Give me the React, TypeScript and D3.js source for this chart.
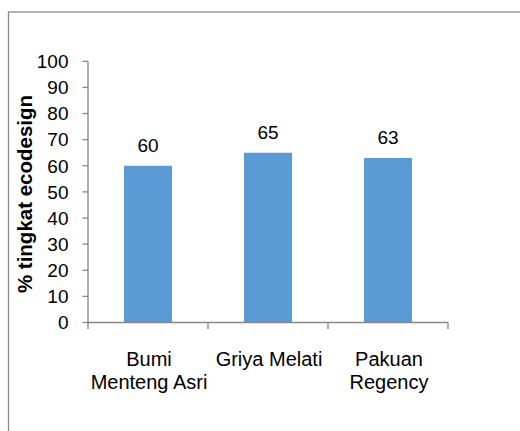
import React from "react";
import * as d3 from "d3";

const categories: string[][] = [["Bumi", "Menteng Asri"], ["Griya Melati"], ["Pakuan", "Regency"]];
const values: number[] = [60, 65, 63];
const yTicks: number[] = [0, 10, 20, 30, 40, 50, 60, 70, 80, 90, 100];
const yTitle = "% tingkat ecodesign";

export default function App() {
  const W = 520, H = 431;
  const left = 88, right = 448, top = 61.3, bottom = 322.5;
  const keys = categories.map((_, i) => String(i));
  const x = d3.scaleBand<string>().domain(keys).range([left, right]).paddingInner(0.6).paddingOuter(0.3);
  const band = d3.scaleBand<string>().domain(keys).range([left, right]);
  const y = d3.scaleLinear().domain([0, 100]).range([bottom, top]);
  const axisColor = "#868686";
  const font = "Arial, 'Liberation Sans', sans-serif";
  return (
    <svg width={W} height={H} style={{ position: "absolute", left: 0, top: 0, background: "#fff" }}>
      <rect x={8.5} y={12} width={520} height={440} fill="#fff" stroke="#8a8a8a" strokeWidth={1.3} />
      {values.map((v, i) => (
        <g key={i}>
          <rect x={x(String(i))!} y={y(v)} width={x.bandwidth()} height={y(0) - y(v)} fill="#5B9BD5" />
          <text x={x(String(i))! + x.bandwidth() / 2} y={y(v) - 13.5} textAnchor="middle" fontFamily={font} fontSize={19} fill="#000">
            {v}
          </text>
        </g>
      ))}
      <line x1={left} x2={left} y1={top} y2={bottom} stroke={axisColor} strokeWidth={1.3} />
      <line x1={left} x2={right} y1={bottom} y2={bottom} stroke={axisColor} strokeWidth={1.3} />
      {yTicks.map((t) => (
        <g key={t}>
          <line x1={left - 5.5} x2={left} y1={y(t)} y2={y(t)} stroke={axisColor} strokeWidth={1.3} />
          <text x={68.5} y={y(t) + 6.8} textAnchor="end" fontFamily={font} fontSize={19} fill="#000">
            {t}
          </text>
        </g>
      ))}
      {[...keys.map((k) => band(k)!), right].map((px, i) => (
        <line key={i} x1={px} x2={px} y1={bottom} y2={bottom + 6.5} stroke={axisColor} strokeWidth={1.3} />
      ))}
      {categories.map((lines, i) => (
        <text key={i} textAnchor="middle" fontFamily={font} fontSize={20} fill="#000">
          {lines.map((l, j) => (
            <tspan key={j} x={band(String(i))! + band.bandwidth() / 2 + 1} y={366 + j * 23}>
              {l}
            </tspan>
          ))}
        </text>
      ))}
      <text transform={`translate(31.7,194) rotate(-90)`} textAnchor="middle" fontFamily={font} fontSize={20.5} fontWeight="bold" fill="#000">
        {yTitle}
      </text>
    </svg>
  );
}
